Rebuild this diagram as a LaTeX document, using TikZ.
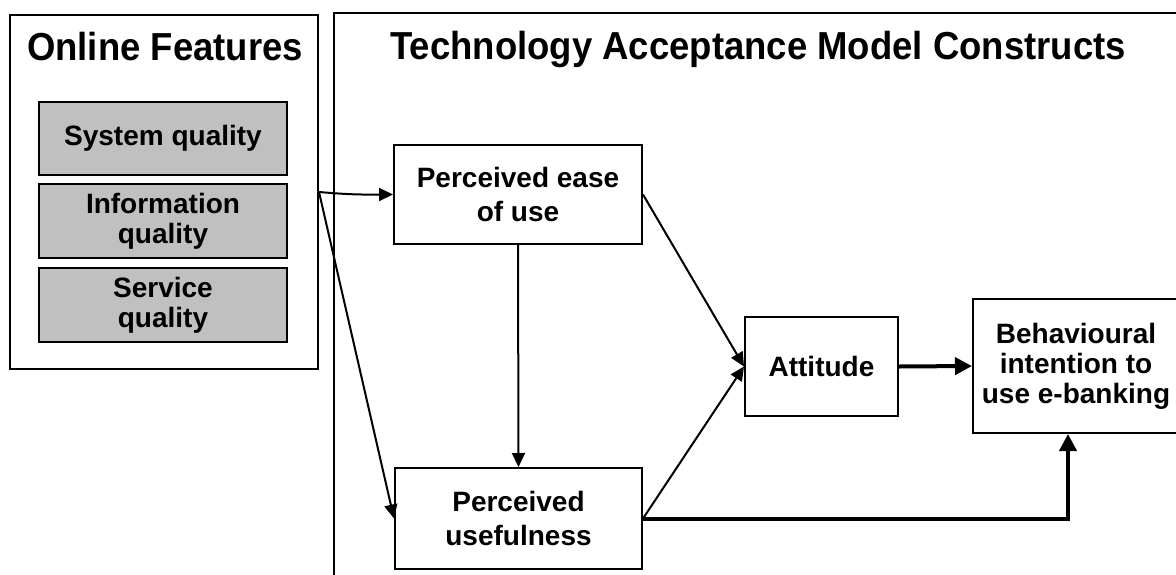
\documentclass[tikz,border=0pt]{standalone}
\usepackage{fontspec}
\usepackage{graphicx}
\setmainfont{Liberation Sans}
\usetikzlibrary{arrows.meta}
\definecolor{boxgray}{RGB}{192,192,192}
\newcommand{\tallt}[1]{\scalebox{1}[1.07]{#1}}
\begin{document}
\begin{tikzpicture}[x=1pt,y=-1pt,
  frame/.style={draw, line width=2pt, inner sep=0pt, rectangle},
  box/.style={draw, line width=2pt, inner sep=0pt, align=center,
    font=\bfseries\fontsize{28}{34}\selectfont},
  graybox/.style={box, fill=boxgray, minimum width=248pt, minimum height=74pt,
    font=\bfseries\fontsize{28}{30}\selectfont},
  title/.style={anchor=base, inner sep=0pt, font=\bfseries\fontsize{36.5}{40}\selectfont},
  thin/.style={line width=2pt, -{Triangle[length=14pt,width=13pt]}},
  heavy/.style={line width=4pt, -{Triangle[length=17pt,width=17pt]}}]
\useasboundingbox (0,0) rectangle (1176,574);
\fill[white] (0,0) rectangle (1176,574);
\clip (0,0) rectangle (1176,574);
% frames
\node[frame, minimum width=308pt, minimum height=354pt] (of) at (164,192) {};
\node[frame, minimum width=900pt, minimum height=650pt] (tam) at (784,338) {};
\node[title] (oft) at (165,60) {\tallt{Online Features}};
\node[title] (tamt) at (758,59) {\tallt{Technology Acceptance Model Constructs}};
% online features
\node[graybox, minimum height=73pt] (sq) at (163,138.5) {System quality};
\node[graybox] (iq) at (163,221) {Information\\quality};
\node[graybox] (svq) at (163,305) {Service\\quality};
% TAM constructs
\node[box, minimum width=248pt, minimum height=99pt] (peou) at (518,194.5) {Perceived ease\\of use};
\node[box, minimum width=247pt, minimum height=101pt] (pu) at (518.5,518.5) {Perceived\\usefulness};
\node[box, minimum width=153pt, minimum height=99pt] (att) at (821.5,366.5) {Attitude};
\node[box, minimum width=206pt, minimum height=134pt,
  font=\bfseries\fontsize{28}{30}\selectfont] (bi) at (1076,366) {Behavioural\\intention to\\use e-banking};
% connectors
\draw[thin] (of.east) .. controls +(35,3) and +(-30,0) .. (peou.west);
\draw[thin] (of.east) -- (pu.west);
\draw[thin] (peou.south) -- (pu.north);
\draw[thin] (peou.east) -- (att.west);
\draw[thin] (pu.east) -- (att.west);
\draw[heavy] (att.east) -- (bi.west);
\draw[heavy] (pu.east) -| ([xshift=-8pt]bi.south);
\end{tikzpicture}
\end{document}
